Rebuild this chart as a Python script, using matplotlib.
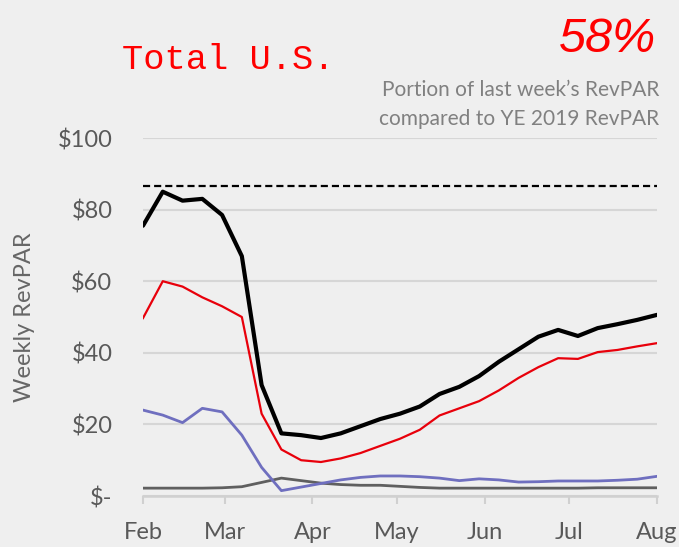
import matplotlib
matplotlib.use("Agg")
import matplotlib.pyplot as plt
import matplotlib.dates as mdates
import numpy as np
import pandas as pd

# weekly points, Feb 1 .. Aug 1 2020
weeks = pd.date_range("2020-02-01", periods=27, freq="7D")

total_us = [75.5, 85.0, 82.5, 83.0, 78.5, 67.0, 31.0, 17.5, 17.0, 16.2, 17.5, 19.5,
            21.5, 23.0, 25.0, 28.5, 30.5, 33.5, 37.5, 41.0, 44.5, 46.4, 44.7, 46.9,
            48.0, 49.2, 50.6]
red_series = [49.7, 60.0, 58.5, 55.5, 53.0, 50.0, 23.0, 13.0, 10.0, 9.5, 10.5, 12.0,
              14.0, 16.0, 18.5, 22.5, 24.5, 26.5, 29.5, 33.0, 36.0, 38.5, 38.3, 40.2,
              40.8, 41.8, 42.7]
purple_series = [24.0, 22.6, 20.5, 24.5, 23.5, 17.0, 8.0, 1.5, 2.5, 3.5, 4.5, 5.2,
                 5.6, 5.6, 5.4, 5.0, 4.3, 4.8, 4.5, 3.9, 4.0, 4.2, 4.2, 4.2, 4.4, 4.7, 5.5]
gray_series = [2.2, 2.2, 2.2, 2.2, 2.3, 2.6, 3.8, 5.0, 4.3, 3.6, 3.2, 3.0, 3.0, 2.7,
               2.4, 2.2, 2.2, 2.2, 2.2, 2.2, 2.2, 2.2, 2.2, 2.3, 2.3, 2.3, 2.3]
ye2019 = 86.6

yticks = [0, 20, 40, 60, 80, 100]
ylabels = ["$-", "$20", "$40", "$60", "$80", "$100"]

plt.rcParams['font.family'] = ['Lato', 'DejaVu Sans']

fig = plt.figure(figsize=(6.79, 5.47), dpi=100)
fig.patch.set_facecolor("#efefef")
ax = fig.add_axes([0.2106, 0.0932, 0.757, 0.6545])
ax.set_facecolor("none")

start = pd.Timestamp("2020-02-01")
end = pd.Timestamp("2020-08-01")

ax.plot([start, end], [ye2019, ye2019], color="black", lw=1.6, ls=(0, (3.2, 1.8)))
ax.plot(weeks, gray_series, color="#5f5f5f", lw=2.0, solid_joinstyle="round")
ax.plot(weeks, purple_series, color="#6f6fbf", lw=2.0, solid_joinstyle="round")
ax.plot(weeks, red_series, color="#e8000b", lw=1.6, solid_joinstyle="round")
ax.plot(weeks, total_us, color="black", lw=3.0, solid_joinstyle="round",
        solid_capstyle="round")

ax.set_xlim(start, end)
ax.set_ylim(0, 100)
ax.set_yticks(yticks)
ax.set_yticklabels(ylabels)
ax.grid(axis="y", color="#d6d6d6", lw=1.5)
ax.set_axisbelow(True)

ax.xaxis.set_major_locator(mdates.MonthLocator())
ax.xaxis.set_major_formatter(mdates.DateFormatter("%b"))

for s in ["top", "right", "left"]:
    ax.spines[s].set_visible(False)
ax.spines["bottom"].set_color("#d0d0d0")
ax.spines["bottom"].set_linewidth(1.8)

ax.tick_params(axis="y", length=0, pad=22, labelsize=17, labelcolor="#595959")
ax.tick_params(axis="x", length=6, width=1.5, color="#d0d0d0", pad=13,
               labelsize=17, labelcolor="#595959")

ax.set_ylabel("Weekly RevPAR", fontsize=17, color="#666666", labelpad=16)

fig.text(122 / 679, 1 - 69 / 547, "Total U.S.", color="#ff0000", fontsize=25.5,
         family="Liberation Mono", ha="left", va="baseline")
fig.text(656 / 679, 1 - 52 / 547, "58%", color="#ff0000", fontsize=35,
         style="italic", family=["Liberation Sans", "DejaVu Sans"],
         ha="right", va="baseline")
fig.text(659 / 679, 1 - 96 / 547, "Portion of last week\u2019s RevPAR",
         color="#808080", fontsize=15, ha="right", va="baseline")
fig.text(659 / 679, 1 - 125 / 547, "compared to YE 2019 RevPAR",
         color="#808080", fontsize=15, ha="right", va="baseline")

fig.savefig("out.png", dpi=100, facecolor=fig.get_facecolor())
